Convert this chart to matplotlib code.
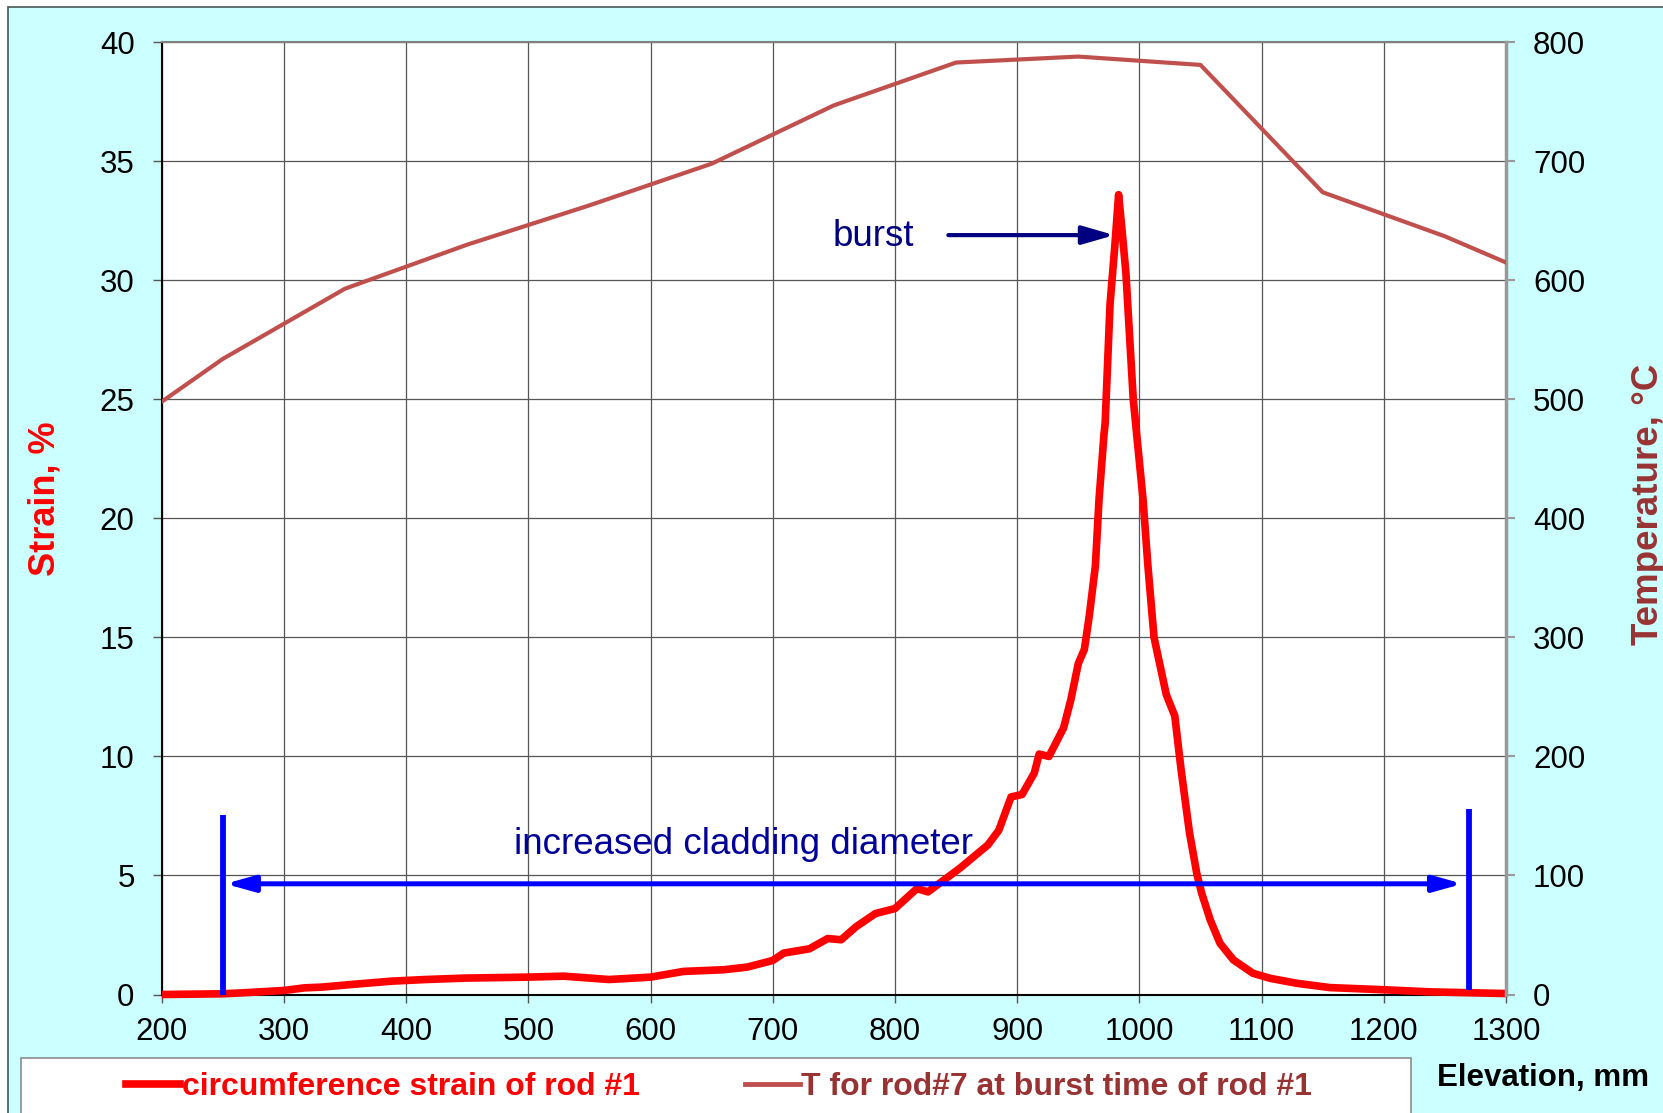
import matplotlib
matplotlib.use("Agg")
import matplotlib.pyplot as plt
from matplotlib.patches import Rectangle
from matplotlib.lines import Line2D

plt.rcParams["font.family"] = ["Liberation Sans", "DejaVu Sans"]

# circumferential strain of rod #1 along the elevation
elev = [200, 250, 270, 300, 317, 331, 355, 388, 416, 449,
        500, 529, 566, 600, 627, 660, 679, 700, 709, 730,
        745, 756, 768, 784, 800, 818, 827, 838, 853, 876,
        885, 895, 904, 914, 918, 926, 938, 944, 950, 955,
        959, 964, 967, 971, 972, 976, 980, 983, 986, 989,
        995, 1003, 1007, 1012, 1022, 1029, 1034, 1041, 1047, 1051,
        1058, 1066, 1077, 1093, 1107, 1129, 1156, 1200, 1238, 1300]
strain = [0.0, 0.03, 0.08, 0.17, 0.28, 0.31, 0.42, 0.56, 0.63, 0.69,
          0.73, 0.77, 0.63, 0.73, 0.97, 1.04, 1.15, 1.43, 1.74, 1.92,
          2.35, 2.30, 2.84, 3.40, 3.61, 4.45, 4.31, 4.73, 5.3, 6.28,
          6.9, 8.3, 8.4, 9.3, 10.1, 10.0, 11.2, 12.4, 13.9, 14.5,
          15.9, 18.0, 20.8, 23.5, 24.0, 29.0, 31.5, 33.6, 32.0, 30.3,
          25.0, 20.8, 18.0, 15.0, 12.6, 11.7, 9.5, 6.8, 5.08, 4.25,
          3.13, 2.15, 1.45, 0.89, 0.68, 0.47, 0.29, 0.2, 0.11, 0.04]

# temperature of rod #7 at burst time of rod #1
t_elev = [200, 250, 350, 450, 550, 650, 750, 850, 950, 1050, 1150, 1250, 1300]
temp = [498, 534, 593, 630, 663, 698, 747, 783, 788, 781, 674, 637, 615]

strain_label = "circumference strain of rod #1"
temp_label = "T for rod#7 at burst time of rod #1"

RED = "#FF0000"
TCOL = "#C0504D"
TTXT = "#993333"
BLUE = "#0000FF"
NAVY = "#000080"

W, H = 1663, 1113
fig = plt.figure(figsize=(W / 100, H / 100), dpi=100)
fig.patch.set_facecolor("white")

# cyan slide background with thin border on left/top
fig.patches.append(Rectangle((8 / W, -0.02), 1.05, 1.02 - 7 / H,
                             transform=fig.transFigure, facecolor="#CCFFFF",
                             edgecolor="#4A5656", lw=1.2, zorder=-10))
# white legend box
fig.patches.append(Rectangle((21 / W, -0.02), (1411 - 21) / W, 0.02 + (1113 - 1057.5) / H,
                             transform=fig.transFigure, facecolor="white",
                             edgecolor="#8C8C8C", lw=1.2, zorder=-5))

ax = fig.add_axes([161.7 / W, 1 - 994.5 / H, (1506 - 161.7) / W, (994.5 - 42.3) / H])
ax.set_facecolor("white")
ax2 = ax.twinx()

ax.plot(elev, strain, color=RED, lw=5.5, solid_joinstyle="round",
        solid_capstyle="butt", clip_on=False, zorder=4)
ax2.plot(t_elev, temp, color=TCOL, lw=3, zorder=3)

ax.set_xlim(200, 1300)
ax.set_ylim(0, 40)
ax2.set_ylim(0, 800)
ax.set_xticks(range(200, 1301, 100))
ax.set_yticks(range(0, 41, 5))
ax2.set_yticks(range(0, 801, 100))

ax.grid(True, color="#555555", lw=0.9)
ax.set_axisbelow(True)

for s in ["left", "bottom"]:
    ax.spines[s].set_color("black")
    ax.spines[s].set_linewidth(1.5)
ax.spines["top"].set_color("#808080")
ax.spines["top"].set_linewidth(1.5)
ax.spines["right"].set_visible(False)
for s in ["left", "bottom", "top"]:
    ax2.spines[s].set_visible(False)
ax2.spines["right"].set_color("#999999")
ax2.spines["right"].set_linewidth(2.5)

ax.tick_params(axis="y", direction="out", length=6.5, width=1, color="#555555",
               labelsize=22.5, pad=13)
ax.tick_params(axis="x", direction="out", length=6, width=1, color="#555555",
               labelsize=22.5, pad=10)
ax2.tick_params(axis="y", direction="out", length=6.5, width=1.5, color="#999999",
                labelsize=22.5, pad=13)

# increased cladding diameter span
ax.plot([250, 250], [0, 7.54], color=BLUE, lw=4.2, solid_capstyle="butt", zorder=5)
ax.plot([1270, 1270], [0.2, 7.8], color=BLUE, lw=4.2, solid_capstyle="butt", zorder=5)
ax.annotate("", xy=(252, 4.65), xytext=(1264.5, 4.65),
            arrowprops=dict(arrowstyle="<|-|>,head_length=0.86,head_width=0.24",
                            mutation_scale=20, color=BLUE, lw=3.6,
                            shrinkA=0, shrinkB=0), zorder=5)
ax.text(488.5, 5.89, "increased cladding diameter", color="#000099",
        fontsize=26.5, va="baseline", ha="left", zorder=6)

# burst marker
ax.annotate("", xy=(979.5, 31.9), xytext=(843.7, 31.9),
            arrowprops=dict(arrowstyle="-|>,head_length=0.97,head_width=0.28",
                            mutation_scale=20, color=NAVY, lw=3,
                            shrinkA=0, shrinkB=0), zorder=5)
ax.text(748.7, 31.44, "burst", color=NAVY, fontsize=26.5, va="baseline", ha="left")

fig.text(44.5 / W, 1 - 498.5 / H, "Strain, %", rotation=90, ha="center", va="center",
         color=RED, fontsize=26, fontweight="bold")
fig.text(1648 / W, 1 - 504 / H, "Temperature, °C", rotation=90, ha="center", va="center",
         color=TTXT, fontsize=26.5, fontweight="bold")
fig.text(1543 / W, 1 - 1078 / H, "Elevation, mm", ha="center", va="center",
         color="black", fontsize=22.5, fontweight="bold")

handles = [Line2D([], [], color=RED, lw=5.5), Line2D([], [], color=TCOL, lw=3.5)]
fig.legend(handles, [strain_label, temp_label], loc="center",
           bbox_to_anchor=(719 / W, 1 - 1087 / H), ncol=2, frameon=False,
           handlelength=1.7, handletextpad=0.05, columnspacing=3.3,
           labelcolor=[RED, TTXT], prop=dict(weight="bold", size=23))

fig.savefig("out.png", dpi=100)
